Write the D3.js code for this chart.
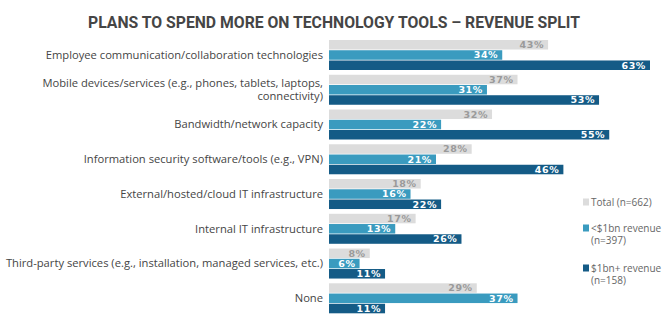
<!DOCTYPE html>
<html>
<head>
<meta charset="utf-8">
<script src="https://cdn.jsdelivr.net/npm/d3@7"></script>
<style>
	body { margin: 0; background: #fff; }
	svg { display: block; }
</style>
</head>
<body>
<svg id="chart" width="668" height="332"></svg>
<script>

var categories = [
	["Employee communication/collaboration technologies"],
	["Mobile devices/services (e.g., phones, tablets, laptops,", "connectivity)"],
	["Bandwidth/network capacity"],
	["Information security software/tools (e.g., VPN)"],
	["External/hosted/cloud IT infrastructure"],
	["Internal IT infrastructure"],
	["Third-party services (e.g., installation, managed services, etc.)"],
	["None"]
];
var totalValues = [43, 37, 32, 28, 18, 17, 8, 29];
var smallValues = [34, 31, 22, 21, 16, 13, 6, 37];
var largeValues = [63, 53, 55, 46, 22, 26, 11, 11];
var seriesNames = ["Total (n=662)", "<$1bn revenue|(n=397)", "$1bn+ revenue|(n=158)"];
var seriesKeys = ["total", "small", "large"];

var colors = { total: "#dcdcdc", small: "#3a9bbf", large: "#145b86" };
var labelColors = { total: "#9a9a9a", small: "#ffffff", large: "#ffffff" };

var rows = categories.map(function(c, i) {
	return { name: c, i: i, total: totalValues[i], small: smallValues[i], large: largeValues[i] };
});

var svg = d3.select("#chart");

svg.append("text")
	.attr("x", 334)
	.attr("y", 28)
	.attr("text-anchor", "middle")
	.attr("font-family", "'Roboto', sans-serif")
	.attr("font-weight", "bold")
	.attr("font-size", 16)
	.attr("textLength", 492)
	.attr("lengthAdjust", "spacingAndGlyphs")
	.attr("fill", "#454545")
	.text("PLANS TO SPEND MORE ON TECHNOLOGY TOOLS \u2013 REVENUE SPLIT");

var x = d3.scaleLinear()
	.domain([0, 63])
	.range([329, 650]);

var y = d3.scaleBand()
	.domain(d3.range(categories.length))
	.range([40, 313.3])
	.paddingInner(0.137)
	.paddingOuter(0);

var yInner = d3.scaleBand()
	.domain(seriesKeys)
	.range([0, y.bandwidth()])
	.paddingInner(0.07);

var groups = svg.selectAll("g.group")
	.data(rows)
	.enter().append("g")
	.attr("class", "group")
	.attr("transform", function(d) { return "translate(0," + y(d.i) + ")"; });

// category labels
groups.append("text")
	.attr("x", 323)
	.attr("font-family", "'Open Sans', sans-serif")
	.attr("font-size", 11.2)
	.attr("fill", "#454545")
	.attr("text-anchor", "end")
	.each(function(d) {
		var t = d3.select(this);
		var n = d.name.length;
		d.name.forEach(function(line, k) {
			t.append("tspan")
				.attr("x", 323)
				.attr("y", y.bandwidth() / 2 + (k - (n - 1) / 2) * 13.5)
				.attr("dy", "0.35em")
				.text(line);
		});
	});

seriesKeys.forEach(function(key) {
	groups.append("rect")
		.attr("x", x(0))
		.attr("y", yInner(key))
		.attr("width", function(d) { return x(d[key]) - x(0); })
		.attr("height", yInner.bandwidth())
		.attr("fill", colors[key]);

	groups.append("text")
		.attr("x", function(d) { return x(d[key]) - 4; })
		.attr("y", yInner(key) + yInner.bandwidth() / 2)
		.attr("dy", "0.36em")
		.attr("text-anchor", "end")
		.attr("font-family", "'DejaVu Sans', sans-serif")
		.attr("font-weight", "bold")
		.attr("font-size", 9.5)
		.attr("letter-spacing", 0.6)
		.attr("fill", labelColors[key])
		.text(function(d) { return d[key] + "%"; });
});

// legend
var legendY = [202, 228, 268];
var legend = svg.selectAll("g.legend")
	.data(seriesKeys)
	.enter().append("g")
	.attr("class", "legend")
	.attr("transform", function(d, i) { return "translate(583," + legendY[i] + ")"; });

legend.append("rect")
	.attr("x", 0)
	.attr("y", -3.5)
	.attr("width", 6)
	.attr("height", 7)
	.attr("fill", function(d) { return colors[d]; });

legend.append("text")
	.attr("font-family", "'Open Sans', sans-serif")
	.attr("font-size", 10)
	.attr("fill", "#666")
	.each(function(d, i) {
		var t = d3.select(this);
		seriesNames[i].split("|").forEach(function(line, k) {
			t.append("tspan")
				.attr("x", 8)
				.attr("y", k * 12.5)
				.attr("dy", "0.35em")
				.text(line);
		});
	});

</script>
</body>
</html>
